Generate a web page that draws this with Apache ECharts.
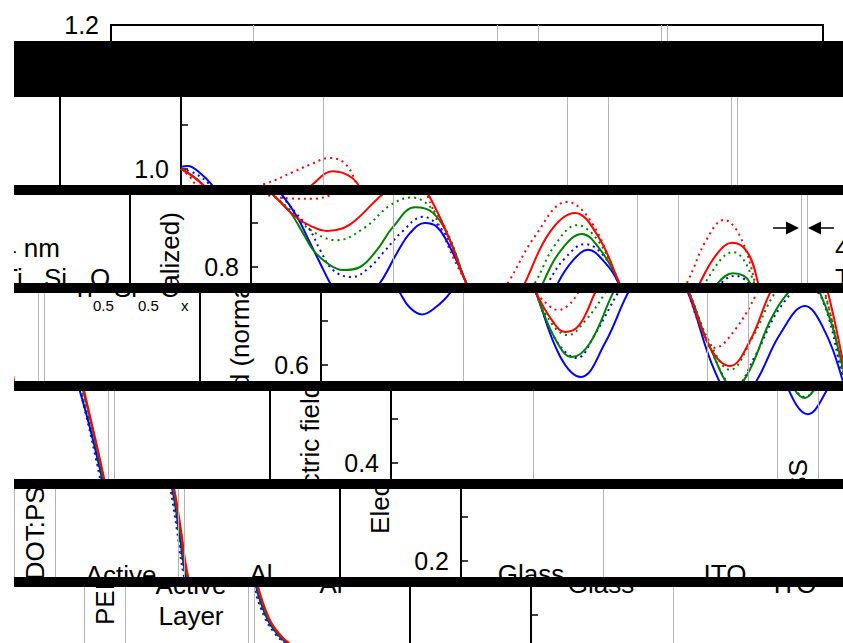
<!DOCTYPE html>
<html>
<head>
<meta charset="utf-8">
<title>Electric field profile</title>
<script src="https://cdn.jsdelivr.net/npm/echarts@6/dist/echarts.min.js"></script>
<style>
  html, body { margin: 0; padding: 0; background: #fff; }
  #page { position: relative; width: 843px; height: 643px; overflow: hidden; background: #fff; }
  .strip { position: absolute; left: 0; width: 843px; overflow: hidden; }
  .chart { position: absolute; width: 843px; height: 643px; }
  .bar { position: absolute; left: 14px; width: 829px; background: #000; }
  .mask { position: absolute; left: 0; top: 41px; width: 14px; height: 602px; background: #fff; }
</style>
</head>
<body>
<div id="page"></div>
<script>
  // x: distance across the stack, starting in the glass (same units everywhere)
  let layerEdges = [142, 386, 427, 550, 556];
  let layerNames = ['Glass', 'ITO', 'PEDOT:PSS', 'Active\nLayer', 'Al'];

  let redSolid = [[0,1.0],[11,0.985],[22,0.964],[44,0.915],[60,0.893],[76,0.882],[92,0.888],[104,0.905],[132,0.966],[152,0.995],[171,0.98],[182,0.945],[199,0.86],[214,0.77],[230,0.705],[244,0.675],[258,0.69],[274,0.764],[299,0.88],[324,0.923],[347,0.87],[367,0.77],[389,0.64],[409,0.598],[429,0.655],[449,0.764],[466,0.83],[481,0.855],[496,0.835],[507,0.764],[526,0.566],[546,0.366],[553,0.27],[560,0.166],[571,0.093],[581,0.058],[591,0.036],[606,0.018],[631,0.006],[671,0.001],[712,0]];
  let redDotted = [[0,1.0],[9,0.982],[16,0.964],[39,0.956],[61,0.955],[86,0.968],[112,0.993],[129,1.01],[149,1.025],[164,1.012],[176,0.964],[189,0.89],[214,0.77],[228,0.735],[237,0.725],[247,0.735],[257,0.764],[284,0.87],[316,0.948],[341,0.9],[366,0.77],[379,0.69],[394,0.639],[414,0.68],[436,0.764],[455,0.86],[473,0.907],[489,0.87],[504,0.764],[524,0.566],[544,0.366],[551,0.27],[558,0.166],[569,0.093],[579,0.058],[589,0.036],[604,0.018],[629,0.006],[669,0.001],[712,0]];
  let greenSolid = [[0,1.0],[11,0.985],[22,0.964],[39,0.925],[52,0.877],[62,0.839],[76,0.809],[92,0.793],[109,0.8],[126,0.839],[142,0.891],[164,0.936],[182,0.923],[199,0.861],[214,0.77],[234,0.66],[251,0.618],[269,0.65],[292,0.764],[309,0.835],[331,0.875],[349,0.84],[367,0.77],[389,0.64],[414,0.548],[429,0.59],[449,0.7],[467,0.764],[482,0.786],[499,0.764],[525,0.566],[545,0.366],[552,0.27],[559,0.166],[570,0.093],[580,0.058],[590,0.036],[605,0.018],[630,0.006],[670,0.001],[712,0]];
  let greenDotted = [[0,1.0],[11,0.985],[22,0.964],[39,0.93],[59,0.885],[86,0.861],[114,0.89],[139,0.94],[161,0.958],[182,0.93],[199,0.865],[214,0.77],[232,0.69],[247,0.668],[264,0.7],[284,0.764],[304,0.85],[326,0.895],[347,0.86],[367,0.77],[389,0.65],[409,0.589],[431,0.66],[454,0.764],[482,0.834],[503,0.764],[523,0.566],[543,0.366],[550,0.27],[557,0.166],[568,0.093],[578,0.058],[588,0.036],[603,0.018],[628,0.006],[668,0.001],[712,0]];
  let blueSolid = [[0,1.005],[7,1.007],[17,0.995],[31,0.964],[46,0.914],[59,0.855],[69,0.809],[79,0.764],[89,0.73],[101,0.715],[114,0.73],[129,0.764],[146,0.832],[159,0.877],[174,0.9],[186,0.891],[199,0.845],[214,0.77],[239,0.62],[260,0.573],[284,0.65],[307,0.764],[322,0.815],[337,0.839],[354,0.81],[367,0.765],[394,0.585],[417,0.511],[436,0.566],[459,0.67],[484,0.734],[501,0.69],[521,0.57],[544,0.366],[551,0.27],[558,0.166],[569,0.093],[579,0.058],[589,0.036],[604,0.018],[629,0.006],[669,0.001],[712,0]];
  let blueDotted = [[0,1.0],[14,0.99],[29,0.964],[44,0.925],[59,0.884],[69,0.839],[82,0.793],[101,0.777],[119,0.8],[132,0.832],[151,0.88],[172,0.914],[189,0.89],[201,0.845],[214,0.77],[234,0.66],[256,0.616],[274,0.67],[297,0.764],[314,0.82],[334,0.852],[351,0.83],[367,0.77],[389,0.64],[414,0.55],[434,0.62],[459,0.73],[484,0.78],[501,0.75],[522,0.566],[542,0.366],[549,0.27],[556,0.166],[567,0.093],[577,0.058],[587,0.036],[602,0.018],[627,0.006],[667,0.001],[712,0]];

  let xMax = 712;
  let yMin = 0, yMax = 1.2, yStep = 0.2;

  // the picture is cut in bands, each one pushed down and slid right
  let bands = [
    {top: 0, height: 41, drop: 0, slide: 0},
    {top: 97, height: 88, drop: 56, slide: 70},
    {top: 195, height: 88, drop: 66, slide: 140},
    {top: 293, height: 88, drop: 76, slide: 210},
    {top: 391, height: 88, drop: 86, slide: 280},
    {top: 489, height: 88, drop: 96, slide: 350},
    {top: 587, height: 56, drop: 106, slide: 420}
  ];
  let wrapWidth = 833;

  const FONT = '"Liberation Sans", Arial, sans-serif';

  function line(name, data, color, dotted) {
    return {
      name: name,
      type: 'line',
      data: data,
      smooth: 0.4,
      showSymbol: false,
      lineStyle: {color: color, width: 2, type: dotted ? [2, 4] : 'solid'},
      itemStyle: {color: color},
      z: 3
    };
  }

  function label(text, x, y, rotate) {
    return {
      type: 'text', x: x, y: y, rotation: rotate ? Math.PI / 2 : 0, z: 10,
      style: {text: text, fontSize: 26, fontFamily: FONT, fill: '#000', align: 'center', verticalAlign: 'middle', lineHeight: 31}
    };
  }

  function small(text, x, y, size) {
    return {
      type: 'text', x: x, y: y, z: 10,
      style: {text: text, fontSize: size, fontFamily: FONT, fill: '#000', align: 'left', verticalAlign: 'middle'}
    };
  }

  function buildOption() {
    let series = [
      line('Blue, dotted', blueDotted, '#0000ff', true),
      line('Green, dotted', greenDotted, '#008000', true),
      line('Red, dotted', redDotted, '#ff0000', true),
      line('Blue', blueSolid, '#0000ff', false),
      line('Green', greenSolid, '#008000', false),
      line('Red', redSolid, '#ff0000', false)
    ];
    series[0].markLine = {
      silent: true,
      symbol: ['none', 'none'],
      label: {show: false},
      animation: false,
      lineStyle: {color: '#b4b4b4', width: 1, type: 'solid'},
      data: layerEdges.map(x => ({xAxis: x}))
    };
    series[0].z = 2;

    return {
      animation: false,
      backgroundColor: 'transparent',
      grid: {left: 111, right: 20, top: 25, bottom: 90, show: true, borderColor: '#000', borderWidth: 2},
      xAxis: {
        type: 'value', min: 0, max: xMax,
        axisLine: {lineStyle: {color: '#000', width: 2}},
        axisTick: {inside: true, length: 7, lineStyle: {color: '#000'}},
        axisLabel: {color: '#000', fontSize: 25, fontFamily: FONT},
        splitLine: {show: false}
      },
      yAxis: {
        type: 'value', min: yMin, max: yMax, interval: yStep,
        axisLine: {show: true, lineStyle: {color: '#000', width: 2}},
        axisTick: {inside: true, length: 7, lineStyle: {color: '#000', width: 1.5}},
        minorTick: {show: true, splitNumber: 2, length: 7, lineStyle: {color: '#000', width: 1.5}},
        axisLabel: {color: '#000', fontSize: 25, fontFamily: FONT, margin: 12, formatter: v => v.toFixed(1)},
        splitLine: {show: false}
      },
      graphic: {elements: [
        label('Electric field (normalized)', 30, 292, true),
        label(layerNames[0], 181, 478),
        label(layerNames[1], 375, 478),
        label(layerNames[2], 518, 446, true),
        label(layerNames[3], 604, 494),
        label(layerNames[4], 744, 478),
        // arrows pointing at the thin interlayer
        {type: 'line', shape: {x1: 633, y1: 162, x2: 647, y2: 162}, style: {stroke: '#000', lineWidth: 1.5}, z: 10},
        {type: 'polygon', shape: {points: [[646, 155.5], [659, 162], [646, 168.5]]}, style: {fill: '#000'}, z: 10},
        {type: 'line', shape: {x1: 680, y1: 162, x2: 694, y2: 162}, style: {stroke: '#000', lineWidth: 1.5}, z: 10},
        {type: 'polygon', shape: {points: [[681, 155.5], [668, 162], [681, 168.5]]}, style: {fill: '#000'}, z: 10},
        small('4 nm', 695, 182, 26),
        small('Ti', 695, 212, 26),
        small('0.5', 716, 229, 15),
        small('Si', 737, 212, 26),
        small('0.5', 761, 229, 15),
        small('O', 783, 212, 26),
        small('x', 804, 229, 15)
      ]},
      series: series
    };
  }

  let page = document.getElementById('page');
  let option = buildOption();

  bands.forEach((b, i) => {
    let strip = document.createElement('div');
    strip.className = 'strip';
    strip.style.top = b.top + 'px';
    strip.style.height = b.height + 'px';
    page.appendChild(strip);

    let lefts = b.slide > 0 ? [b.slide, b.slide - wrapWidth] : [0];
    lefts.forEach(left => {
      let box = document.createElement('div');
      box.className = 'chart';
      box.style.top = (b.drop - b.top) + 'px';
      box.style.left = left + 'px';
      strip.appendChild(box);
      let chart = echarts.init(box, null, {renderer: 'svg'});
      chart.setOption(option);
    });

    if (i > 0) {
      let bar = document.createElement('div');
      bar.className = 'bar';
      let prev = bands[i - 1];
      bar.style.top = (prev.top + prev.height) + 'px';
      bar.style.height = (b.top - prev.top - prev.height) + 'px';
      page.appendChild(bar);
    }
  });

  let mask = document.createElement('div');
  mask.className = 'mask';
  page.appendChild(mask);
</script>
</body>
</html>
